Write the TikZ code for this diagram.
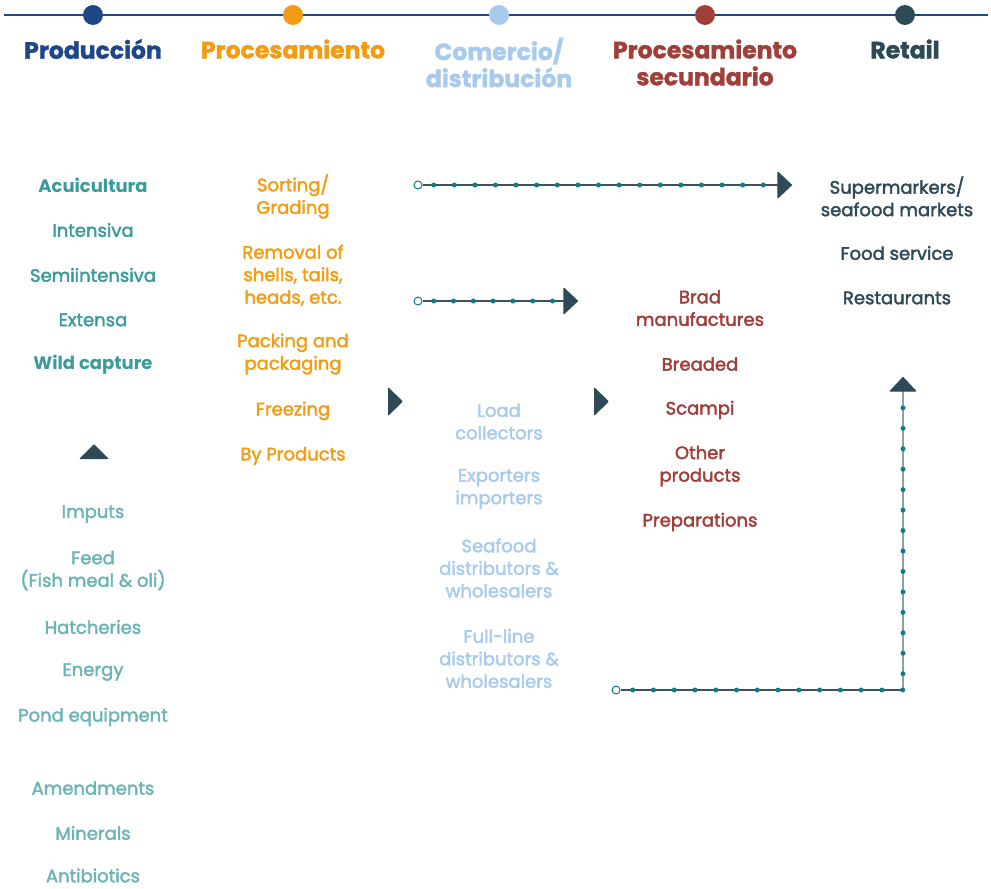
\documentclass[tikz,border=0pt]{standalone}
\usepackage{fontspec}
\setmainfont{Poppins}
\newfontfamily\semibold[FakeBold=2.2]{Poppins}
\newfontfamily\titlefont[BoldFeatures={FakeBold=1.6}]{Poppins}
\usetikzlibrary{arrows.meta}
\definecolor{prodblue}{HTML}{1F4788}
\definecolor{procorange}{HTML}{F39C12}
\definecolor{comblue}{HTML}{A7CAED}
\definecolor{secred}{HTML}{A03F39}
\definecolor{retailslate}{HTML}{2F4A57}
\definecolor{teal}{HTML}{3A9A9C}
\definecolor{lightteal}{HTML}{6CB4B5}
\definecolor{dotteal}{HTML}{0F7B84}
\definecolor{linegray}{HTML}{3E525C}
\definecolor{vlinegray}{HTML}{8CA2A6}
\begin{document}
\begin{tikzpicture}
[x=1pt,y=-1pt,
  stagedot/.style={circle,inner sep=0pt,minimum size=20pt},%
  stagetitle/.style={font=\fontsize{23.5}{27}\titlefont\bfseries\selectfont,align=center,inner sep=0pt},%
  item/.style={font=\fontsize{18}{22.5}\semibold\selectfont,align=center,inner sep=0pt},%
  bolditem/.style={font=\fontsize{18}{22.5}\bfseries\selectfont,align=center,inner sep=0pt},%
  flowline/.style={draw=linegray,line width=1.3pt},%
  flowdot/.style={circle,fill=dotteal,inner sep=0pt,minimum size=5pt},%
  flowstart/.style={circle,draw=dotteal,fill=white,line width=1pt,inner sep=0pt,minimum size=8pt},%
  bigtip/.style={-{Triangle[length=15pt,width=28pt,round,color=retailslate]}},%
  marker/.style={fill=retailslate,rounded corners=1pt}]
\useasboundingbox (0,0) rectangle (991,889);
%% timeline
\coordinate (tl) at (4,15);
\coordinate (tr) at (988,15);
\draw[prodblue,line width=2pt] (tl) -- (tr);
\foreach \nodename/\x/\y/\col/\title in {prod/93/49/prodblue/Producción,
  proc/293/49/procorange/Procesamiento, com/499/62.5/comblue/{Comercio/\\distribución},
  sec/705/62.5/secred/{Procesamiento\\secundario}, ret/905/49/retailslate/Retail} {
  \node (\nodename) at (\x,15) [stagedot,fill=\col] {};
  \node (\nodename title) [stagetitle,text=\col] at (\x,\y) {\title};
}
%% produccion
\node (acui) [bolditem,text=teal] at (93,185) {Acuicultura};
\foreach \nodename/\y/\txt in {int/230/Intensiva, semi/275/Semiintensiva, ext/320/Extensa} {
  \node (\nodename) [item,text=teal] at (93,\y) {\txt};
}
\node (wild) [bolditem,text=teal] at (93,364.5) {Wild capture};
\foreach \nodename/\y/\txt in {imp/514/Imputs, feed/570.5/{Feed\\(Fish meal \& oli)},
  hatch/627/Hatcheries, energy/672/Energy, pond/717/Pond equipment,
  amend/788/Amendments, miner/833/Minerals, anti/875.5/Antibiotics} {
  \node (\nodename) [item,text=lightteal] at (93,\y) {\txt};
}
%% procesamiento
\foreach \nodename/\y/\txt in {sort/196.5/{Sorting/\\Grading},
  remov/275.5/{Removal of\\shells, tails,\\heads, etc.}, pack/354/{Packing and\\packaging},
  freez/411/Freezing, byprod/456/By Products} {
  \node (\nodename) [item,text=procorange] at (293,\y) {\txt};
}
%% comercio
\foreach \nodename/\y/\txt in {load/421.5/{Load\\collectors}, expo/489/{Exporters\\importers},
  seadist/568/{Seafood\\distributors \&\\wholesalers}, fulldist/658.5/{Full-line\\distributors \&\\wholesalers}} {
  \node (\nodename) [item,text=comblue] at (499,\y) {\txt};
}
%% procesamiento secundario
\foreach \nodename/\y/\txt in {brad/308/{Brad\\manufactures}, bread/364/Breaded,
  scampi/410/Scampi, other/466/{Other\\products}, prep/522/Preparations} {
  \node (\nodename) [item,text=secred] at (700,\y) {\txt};
}
%% retail
\foreach \nodename/\y/\txt in {super/196.5/{Supermarkers/\\seafood markets},
  food/253/Food service, rest/298/Restaurants} {
  \node (\nodename) [item,text=retailslate] at (897,\y) {\txt};
}
%% markers
\fill[marker] (388,387) -- (403,401.5) -- (388,416) -- cycle;
\fill[marker] (594,387) -- (609,401.5) -- (594,416) -- cycle;
\fill[marker] (79,459) -- (94,444) -- (109,459) -- cycle;
%% flows
\node (s1) [flowstart] at (418,185) {};
\coordinate (e1) at (792,185);
\draw[flowline,bigtip] (s1) -- (e1);
\foreach \i in {0,...,16} \node [flowdot] at (433.7+20.6*\i,185) {};
\node (s2) [flowstart] at (418,301) {};
\coordinate (e2) at (578,301);
\draw[flowline,bigtip] (s2) -- (e2);
\foreach \i in {0,...,6} \node [flowdot] at (433.7+19.8*\i,301) {};
\node (s3) [flowstart] at (616,690) {};
\coordinate (c3) at (903,690);
\coordinate (e3) at (903,377);
\draw[flowline] (s3) -- (c3);
\draw[flowline,draw=vlinegray,bigtip] (c3) -- (e3);
\foreach \i in {0,...,13} \node [flowdot] at (632.7+20.77*\i,690) {};
\foreach \i in {0,...,13} \node [flowdot] at (903,673.7-20.45*\i) {};
\end{tikzpicture}
\end{document}
